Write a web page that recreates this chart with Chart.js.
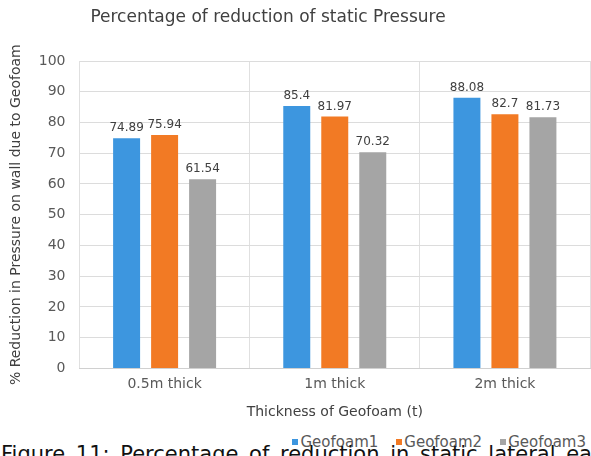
<!DOCTYPE html>
<html lang="en">
<head>
  <meta charset="UTF-8">
  <title>Percentage of reduction of static Pressure</title>
  <script src="https://cdn.jsdelivr.net/npm/chart.js"></script>
  <style>
    body { margin: 0; background: #fff; }
    .wrap { position: relative; width: 591px; height: 456px; overflow: hidden; }
    #myChart { position: absolute; left: 0; top: 0; }
    .titulo { position: absolute; top: 6px; left: 0; width: 536px; text-align: center; font: 17px "DejaVu Sans", sans-serif; color: #404040; white-space: nowrap; }
    .legenda { position: absolute; top: 433px; right: 5px; font: 15px "DejaVu Sans", sans-serif; color: #595959; white-space: nowrap; }
    .legenda span { margin-left: 18px; }
    .legenda i { display: inline-block; width: 6px; height: 6px; margin-right: 2px; vertical-align: 2px; }
    .legenda-texto { position: absolute; top: 442px; left: 1px; font: 21px "DejaVu Sans", sans-serif; color: #111; white-space: nowrap; word-spacing: 4px; }
  </style>
</head>
<body>
  <div class="wrap">
    <canvas id="myChart" width="591" height="425"></canvas>
    <div class="titulo">Percentage of reduction of static Pressure</div>
    <div class="legenda" id="legenda"></div>
    <div class="legenda-texto">Figure 11: Percentage of reduction in static lateral earth pressure</div>
  </div>

<script>
  // dados
  var categorias = ['0.5m thick', '1m thick', '2m thick'];
  var series = ['Geofoam1', 'Geofoam2', 'Geofoam3'];
  var geofoam1 = [74.89, 85.4, 88.08];
  var geofoam2 = [75.94, 81.97, 82.7];
  var geofoam3 = [61.54, 70.32, 81.73];
  var ticksY = [0, 10, 20, 30, 40, 50, 60, 70, 80, 90, 100];

  var cores = ['#3D96DF', '#F27A24', '#A5A5A5'];
  var fonte = '"DejaVu Sans", sans-serif';

  // rótulos de valor em cima das barras
  const rotulos = {
    id: 'rotulos',
    afterDatasetsDraw(chart) {
      const ctx = chart.ctx;
      ctx.save();
      ctx.font = '12px ' + fonte;
      ctx.fillStyle = '#404040';
      ctx.textAlign = 'center';
      ctx.textBaseline = 'bottom';
      chart.data.datasets.forEach(function (ds, i) {
        chart.getDatasetMeta(i).data.forEach(function (bar, j) {
          ctx.fillText(String(ds.data[j]), bar.x, bar.y - 4);
        });
      });
      ctx.restore();
    }
  };

  let dados = {
    labels: categorias,
    datasets: [
      { label: series[0], data: geofoam1, backgroundColor: cores[0] },
      { label: series[1], data: geofoam2, backgroundColor: cores[1] },
      { label: series[2], data: geofoam3, backgroundColor: cores[2] }
    ]
  };

  // o título fica no div .titulo, aqui só reservo o espaço em cima
  const config = {
    type: 'bar',
    data: dados,
    plugins: [rotulos],
    options: {
      responsive: false,
      animation: false,
      categoryPercentage: 0.67,
      barPercentage: 0.71,
      layout: { padding: { left: 8, right: 1, top: 61, bottom: 0 } },
      plugins: {
        legend: { display: false },
        tooltip: { enabled: false },
        title: { display: false }
      },
      scales: {
        x: {
          grid: { offset: true, color: '#e0e0e0', drawTicks: false },
          border: { color: '#d0d0d0' },
          ticks: { color: '#595959', font: { family: fonte, size: 14 }, padding: 8 },
          title: { display: true, text: 'Thickness of Geofoam (t)', color: '#404040', font: { family: fonte, size: 14 }, padding: { top: 3 } }
        },
        y: {
          min: ticksY[0],
          max: ticksY[ticksY.length - 1],
          afterBuildTicks: function (axis) { axis.ticks = ticksY.map(function (v) { return { value: v }; }); },
          grid: { color: '#dcdcdc', drawTicks: false },
          border: { display: false },
          ticks: { color: '#595959', font: { family: fonte, size: 14 }, padding: 14 },
          title: { display: true, text: '% Reduction in Pressure on wall due to Geofoam', color: '#404040', font: { family: fonte, size: 14 }, padding: { top: 0, bottom: 0 } }
        }
      }
    }
  };

  let myChart = new Chart(document.getElementById('myChart'), config);

  // legenda montada a partir das séries
  var leg = document.getElementById('legenda');
  series.forEach(function (nome, i) {
    var s = document.createElement('span');
    s.innerHTML = '<i style="background:' + cores[i] + '"></i>' + nome;
    leg.appendChild(s);
  });
</script>
</body>
</html>
